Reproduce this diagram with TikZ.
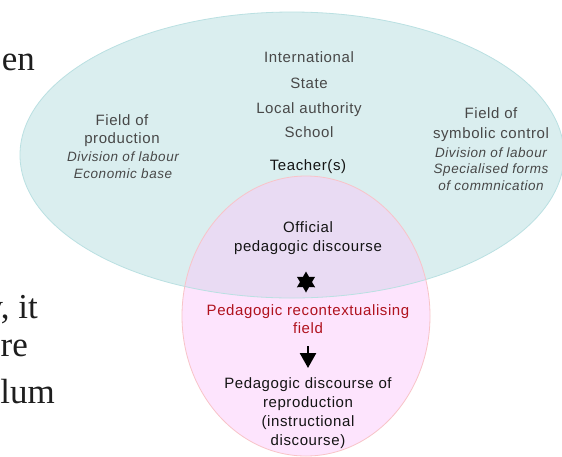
\documentclass[tikz,border=0pt]{standalone}
\usepackage{fontspec}
\usetikzlibrary{shapes.geometric,arrows.meta}
\newfontfamily\diagfont{Liberation Sans}[LetterSpace=4]
\newfontfamily\slidefont{Liberation Serif}
\definecolor{blueF}{RGB}{218,238,239}
\definecolor{blueD}{RGB}{186,224,226}
\definecolor{pinkF}{RGB}{253,228,253}
\definecolor{pinkD}{RGB}{248,196,200}
\definecolor{overF}{RGB}{233,219,243}
\definecolor{txtG}{RGB}{72,72,72}
\definecolor{txtK}{RGB}{20,20,20}
\definecolor{txtR}{RGB}{176,18,30}
\definecolor{slideT}{RGB}{30,30,30}
\begin{document}
\begin{tikzpicture}[x=1pt,y=-1pt,
  lab/.style={font=\diagfont\fontsize{15}{18}\selectfont, text=txtG, anchor=base, inner sep=0pt},
  ital/.style={font=\diagfont\itshape\fontsize{13.5}{16}\selectfont, text=txtG, anchor=base, inner sep=0pt},
  blk/.style={lab, text=txtK},
  red/.style={lab, text=txtR},
  slide/.style={font=\slidefont\fontsize{35}{40}\selectfont, text=slideT, anchor=base east, inner sep=0pt},
  arrowline/.style={line width=2.5pt, -{Triangle[width=16pt,length=15pt]}}
]
\useasboundingbox (0,0) rectangle (562,456);
\clip (0,0) rectangle (562,456);
\fill[white] (0,0) rectangle (562,456);

% slide text fragments
\node[slide] (f1) at (35,70) {en};
\node[slide] (f2) at (38,318) {y, it};
\node[slide] (f3) at (28,356) {re};
\node[slide] (f4) at (55,403) {lum};

% ellipses
\fill[blueF] (292,155) ellipse [x radius=272pt, y radius=143pt];
\fill[pinkF] (306,316) ellipse [x radius=124pt, y radius=140pt];
\begin{scope}
  \clip (292,155) ellipse [x radius=272pt, y radius=143pt];
  \fill[overF] (306,316) ellipse [x radius=124pt, y radius=140pt];
\end{scope}
\draw[blueD, line width=0.8pt] (292,155) ellipse [x radius=272pt, y radius=143pt];
\draw[pinkD, line width=0.8pt] (306,316) ellipse [x radius=124pt, y radius=140pt];

% hierarchy
\node[lab] (intl) at (309,62) {International};
\node[lab] (state) at (309,88) {State};
\node[lab] (local) at (309,113) {Local authority};
\node[lab] (school) at (309,137) {School};
\node[blk] (teach) at (308,170) {Teacher(s)};

% field of production
\node[lab] (fp1) at (122,125) {Field of};
\node[lab] (fp2) at (122,143) {production};
\node[ital] (fp3) at (123,161) {Division of labour};
\node[ital] (fp4) at (123,178) {Economic base};

% field of symbolic control
\node[lab] (fs1) at (491,118) {Field of};
\node[lab] (fs2) at (491,138) {symbolic control};
\node[ital] (fs3) at (491,157) {Division of labour};
\node[ital] (fs4) at (491,173) {Specialised forms};
\node[ital] (fs5) at (491,190) {of commnication};

% lower column
\node[blk] (off1) at (308,232) {Official};
\node[blk] (off2) at (308,251) {pedagogic discourse};
\node[star, star points=6, star point ratio=1.75, fill=black, inner sep=0pt, minimum size=21pt] (star) at (306,282) {};
\node[red] (rec1) at (308,315) {Pedagogic recontextualising};
\node[red] (rec2) at (308,333) {field};
\coordinate (a1) at (308,346);
\coordinate (a2) at (308,368);
\draw[arrowline] (a1) -- (a2);
\node[blk] (rep1) at (308,388) {Pedagogic discourse of};
\node[blk] (rep2) at (308,407) {reproduction};
\node[blk] (rep3) at (308,426) {(instructional};
\node[blk] (rep4) at (308,445) {discourse)};
\end{tikzpicture}
\end{document}
